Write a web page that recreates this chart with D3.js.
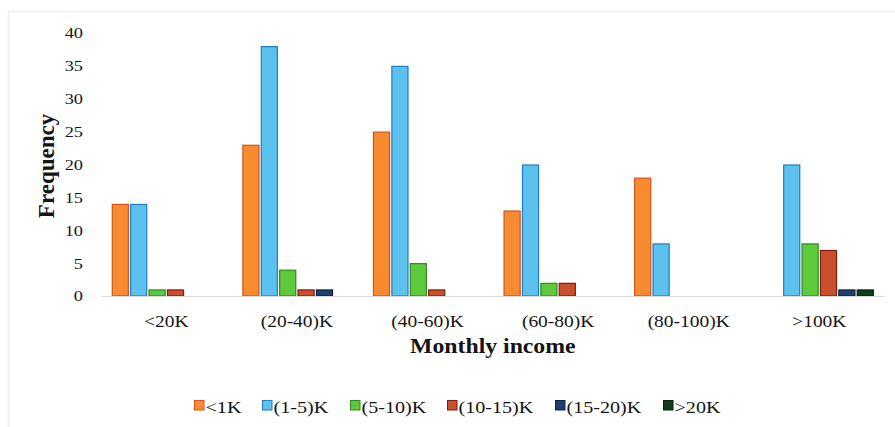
<!DOCTYPE html>
<html>
<head>
<meta charset="utf-8">
<script src="https://cdn.jsdelivr.net/npm/d3@7"></script>
<style>
  html, body { margin: 0; padding: 0; background: #fff; }
  svg text { font-family: "Liberation Serif", "Times New Roman", Times, "DejaVu Serif", serif !important; fill: #151515; }
</style>
</head>
<body>
<svg id="chart" width="895" height="427"></svg>
<script>
// Monthly income groups (x axis) and monthly expenditure classes (series)
const incomeGroups = ["<20K", "(20-40)K", "(40-60)K", "(60-80)K", "(80-100)K", ">100K"];
const seriesNames = ["<1K", "(1-5)K", "(5-10)K", "(10-15)K", "(15-20)K", ">20K"];

// Frequencies per series, one value per income group
const below1K   = [14, 23, 25, 13, 18, 0];
const k1to5     = [14, 38, 35, 20,  8, 20];
const k5to10    = [ 1,  4,  5,  2,  0, 8];
const k10to15   = [ 1,  1,  1,  2,  0, 7];
const k15to20   = [ 0,  1,  0,  0,  0, 1];
const above20K  = [ 0,  0,  0,  0,  0, 1];

const yTicks = [0, 5, 10, 15, 20, 25, 30, 35, 40];

const seriesValues = [below1K, k1to5, k5to10, k10to15, k15to20, above20K];
const fills   = ["#f68b2f", "#5cc1ec", "#5ec93b", "#c9502a", "#1b3f6e", "#0f3d1a"];
const strokes = ["#d4521e", "#1f7cc6", "#2f8b1f", "#7e1d10", "#0e2446", "#06240d"];

// text in this chart is set slightly wide
const wide = 1.18;

const svg = d3.select("#chart");

// faint outer frame
svg.append("rect")
  .attr("x", 8.5).attr("y", 11.5)
  .attr("width", 900).attr("height", 430)
  .attr("fill", "none").attr("stroke", "#eeeeee").attr("stroke-width", 1.5);

const plot = { left: 101, right: 884.6, top: 33, bottom: 296 };

const x0 = d3.scaleBand()
  .domain(incomeGroups)
  .range([plot.left, plot.right])
  .paddingInner(0.165)
  .paddingOuter(0.0825);

const x1 = d3.scaleBand()
  .domain(seriesNames)
  .range([0, x0.bandwidth()])
  .paddingInner(0.07);

const y = d3.scaleLinear()
  .domain([0, 40])
  .range([plot.bottom, plot.top]);

// y axis: labels only
const yAxis = d3.axisLeft(y).tickValues(yTicks).tickSize(0).tickPadding(0);
const gy = svg.append("g")
  .attr("transform", `translate(${83},0)`)
  .call(yAxis);
gy.attr("font-family", null);
gy.select(".domain").remove();
gy.selectAll("text")
  .attr("x", 0)
  .attr("font-size", 15.5)
  .attr("transform", `scale(${wide},1)`);

// bars
const groups = svg.append("g").selectAll("g")
  .data(incomeGroups)
  .join("g")
  .attr("transform", d => `translate(${x0(d)},0)`);

groups.selectAll("rect")
  .data((g, gi) => seriesNames.map((s, si) => ({ s, si, v: seriesValues[si][gi] })))
  .join("rect")
  .filter(d => d.v > 0)
  .attr("x", d => x1(d.s) + 0.5)
  .attr("y", d => y(d.v) + 0.5)
  .attr("width", x1.bandwidth() - 1)
  .attr("height", d => y(0) - y(d.v) - 0.5)
  .attr("fill", d => fills[d.si])
  .attr("stroke", d => strokes[d.si])
  .attr("stroke-width", 1.2);

// x axis baseline and category labels
const xAxis = d3.axisBottom(x0).tickSize(0).tickPadding(0);
const gx = svg.append("g")
  .attr("transform", `translate(0,${plot.bottom})`)
  .call(xAxis);
gx.attr("font-family", null);
gx.select(".domain")
  .attr("stroke", "#dcdcdc")
  .attr("stroke-width", 1.2);
gx.selectAll("text")
  .attr("y", 31)
  .attr("dy", 0)
  .attr("font-size", 16.5)
  .attr("transform", `scale(${wide},1)`);

// axis titles
svg.append("text")
  .attr("transform", `translate(${(plot.left + plot.right) / 2},353) scale(1.08,1)`)
  .attr("text-anchor", "middle")
  .attr("font-size", 22)
  .attr("font-weight", "bold")
  .text("Monthly income");

svg.append("text")
  .attr("transform", `translate(54,166) rotate(-90)`)
  .attr("text-anchor", "middle")
  .attr("font-size", 23)
  .attr("font-weight", "bold")
  .text("Frequency");

// legend
const legendX = [194, 262, 350, 447, 555, 663];
const legend = svg.append("g").selectAll("g")
  .data(seriesNames)
  .join("g")
  .attr("transform", (d, i) => `translate(${legendX[i]},400)`);
legend.append("rect")
  .attr("x", 0.5).attr("y", 0.5)
  .attr("width", 9.5).attr("height", 9.5)
  .attr("fill", (d, i) => fills[i])
  .attr("stroke", (d, i) => strokes[i])
  .attr("stroke-width", 1);
legend.append("text")
  .attr("transform", `translate(11.5,12.5) scale(1.15,1)`)
  .attr("font-size", 17.5)
  .text(d => d);
</script>
</body>
</html>
